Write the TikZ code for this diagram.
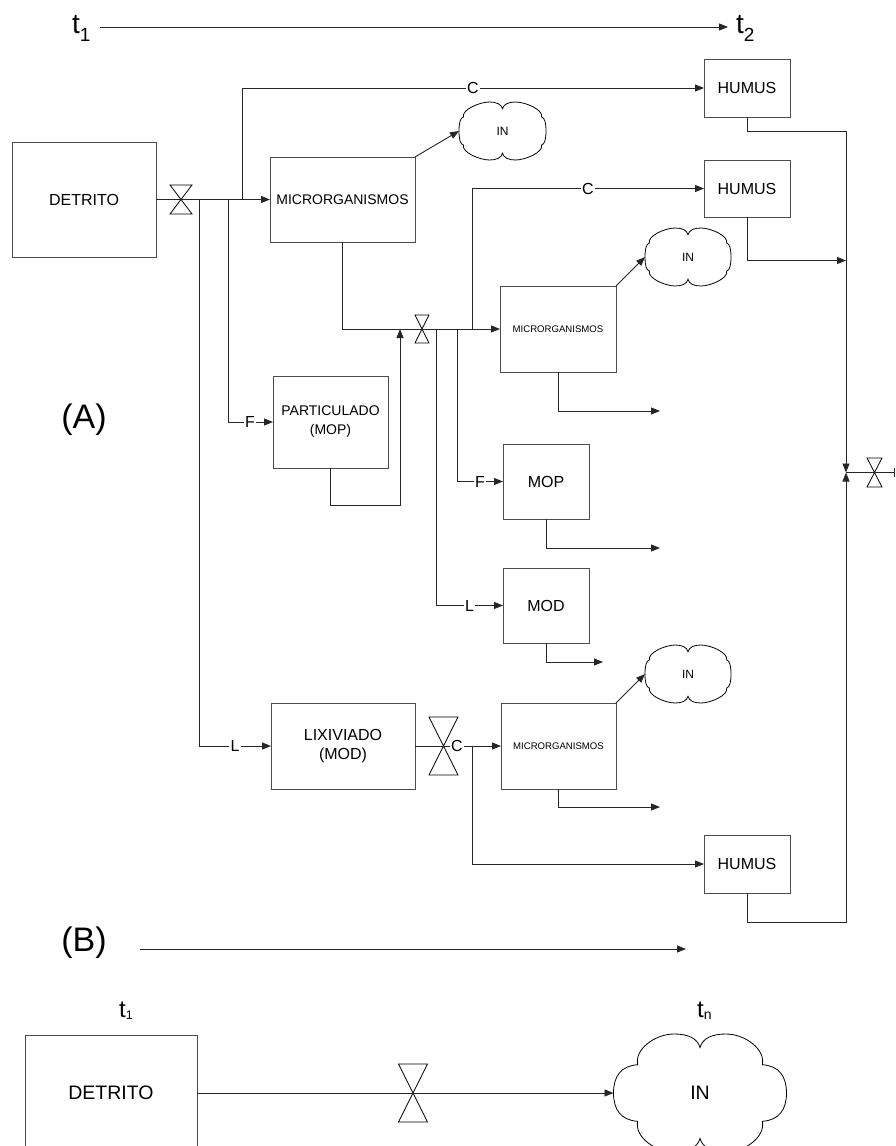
\documentclass[tikz,border=0pt]{standalone}
\usepackage{fontspec}
\setmainfont{Liberation Sans}
\usetikzlibrary{arrows.meta}
\newcommand{\fsz}[2]{\fontsize{#1}{#2}\selectfont}
\newcommand{\drawcloud}[5]{%
  \begin{scope}[shift={(#1,#2)}, xscale=#3, yscale=-#4]
  \draw[cloudline]
    (0,0.77) .. controls (0.03,0.93) and (0.14,1) .. (0.3,1)
    .. controls (0.52,1) and ({#5+0.04},0.74) .. (#5,0.48)
    .. controls ({#5+(1-#5)*0.7},0.46) and (1,0.28) .. (1,0)
    .. controls (1,-0.28) and ({#5+(1-#5)*0.7},-0.46) .. (#5,-0.48)
    .. controls ({#5+0.04},-0.74) and (0.52,-1) .. (0.3,-1)
    .. controls (0.14,-1) and (0.03,-0.93) .. (0,-0.77)
    .. controls (-0.03,-0.93) and (-0.14,-1) .. (-0.3,-1)
    .. controls (-0.52,-1) and ({-#5-0.04},-0.74) .. (-#5,-0.48)
    .. controls ({-#5-(1-#5)*0.7},-0.46) and (-1,-0.28) .. (-1,0)
    .. controls (-1,0.28) and ({-#5-(1-#5)*0.7},0.46) .. (-#5,0.48)
    .. controls ({-#5-0.04},0.74) and (-0.52,1) .. (-0.3,1)
    .. controls (-0.14,1) and (-0.03,0.93) .. (0,0.77) -- cycle;
  \end{scope}}
\newcommand{\drawvalve}[5]{%
  \node[inner sep=0pt, outer sep=0pt, minimum width=#4pt, minimum height=#5pt] (#1) at (#2,#3) {};
  \draw[valveline] (#1.north west) -- (#1.north east) -- (#1.south west) -- (#1.south east) -- cycle;}
\tikzset{
  box/.style={draw=black!70, line width=1pt, inner sep=0pt, outer sep=0pt, align=center},
  ln/.style={draw=black!85, line width=0.9pt},
  arr/.style={ln, -{Triangle[length=9pt,width=7pt]}},
  lab/.style={fill=white, inner sep=1.5pt, font=\fsz{16}{16}},
  cloudline/.style={draw=black, line width=0.8pt},
  valveline/.style={draw=black, line width=0.8pt},
  cloudtext/.style={inner sep=0pt, outer sep=0pt},
}
\begin{document}
\begin{tikzpicture}[x=1pt,y=-1pt]
\useasboundingbox (0,0) rectangle (895,1146);
\clip (0,0) rectangle (895,1146);
\fill[white] (0,0) rectangle (895,1146);

% ---- top timeline
\node[anchor=base west, inner sep=0pt, font=\fsz{28}{28}] (ta) at (72,33) {t\raisebox{-8pt}{\fsz{19}{19}1}};
\node[anchor=base west, inner sep=0pt, font=\fsz{28}{28}] (tb) at (736,33) {t\raisebox{-8pt}{\fsz{19}{19}2}};
\coordinate (tl1) at (100,27);
\coordinate (tl2) at (728,27);
\draw[arr] (tl1) -- (tl2);

\node[font=\fsz{34}{34}] (labA) at (84,420) {(A)};

% ---- boxes
\node[box, minimum width=144pt, minimum height=115pt, font=\fsz{16}{19}] (det1) at (84,199.5) {DETRITO};
\node[box, minimum width=145pt, minimum height=85pt, font=\fsz{14}{19}] (mic1) at (342.5,199.5) {MICRORGANISMOS};
\node[box, minimum width=86pt, minimum height=58pt, font=\fsz{16}{19}] (hum1) at (747,88) {HUMUS};
\node[box, minimum width=86pt, minimum height=57pt, font=\fsz{16}{19}] (hum2) at (747,188.5) {HUMUS};
\node[box, minimum width=116pt, minimum height=86pt, font=\fsz{9.6}{12}] (mic2) at (558,329) {MICRORGANISMOS};
\node[box, minimum width=115pt, minimum height=92pt, font=\fsz{14}{19}] (part) at (330.5,422) {PARTICULADO\\(MOP)};
\node[box, minimum width=86pt, minimum height=75pt, font=\fsz{16}{19}] (mop) at (546,481.5) {MOP};
\node[box, minimum width=86pt, minimum height=75pt, font=\fsz{16}{19}] (mod) at (546,605.5) {MOD};
\node[box, minimum width=144pt, minimum height=86pt, font=\fsz{16}{19}] (lix) at (343,746) {LIXIVIADO\\(MOD)};
\node[box, minimum width=115pt, minimum height=86pt, font=\fsz{9.6}{12}] (mic3) at (558.5,746) {MICRORGANISMOS};
\node[box, minimum width=86pt, minimum height=58pt, font=\fsz{16}{19}] (hum3) at (747,864) {HUMUS};

% ---- clouds
\node[cloudtext, minimum width=87pt, minimum height=58pt, font=\fsz{12}{12}] (c1) at (502.5,131) {IN};
\drawcloud{502.5}{131}{43.5}{29}{0.9}
\node[cloudtext, minimum width=86pt, minimum height=58pt, font=\fsz{12}{12}] (c2) at (688,257) {IN};
\drawcloud{688}{257}{43}{29}{0.9}
\node[cloudtext, minimum width=86pt, minimum height=58pt, font=\fsz{12}{12}] (c3) at (688,674) {IN};
\drawcloud{688}{674}{43}{29}{0.9}

% ---- valves
\drawvalve{v1}{181}{199.5}{22}{29}
\drawvalve{v2}{422}{329}{14}{28}
\drawvalve{v3}{443.5}{746}{29}{58}
\drawvalve{v4}{874.5}{472.5}{15}{29}

% ---- first stage connectors
\draw[ln] (det1.east) -- (v1.center);
\draw[arr] (v1.center) -- (mic1.west);
\coordinate (b1) at (242,199.5);
\coordinate (b2) at (199,199.5);
\coordinate (b3) at (228,199.5);
\draw[arr] (b1) |- node[lab, pos=0.75] {C} (hum1.west);
\draw[arr] (b2) |- node[lab, pos=0.75] {L} (lix.west);
\draw[arr] (b3) |- node[lab, pos=0.745] {F} (part.west);
\draw[arr] (mic1.north east) -- (c1.west);

% ---- second stage
\draw[ln] (mic1.south) |- (v2.center);
\coordinate (j1) at (400,329);
\draw[arr] (part.south) -- ++(0,37) -| (j1);
\draw[arr] (v2.center) -- (mic2.west);
\coordinate (b4) at (472,329);
\coordinate (b5) at (457,329);
\coordinate (b6) at (436,329);
\draw[arr] (b4) |- node[lab, pos=0.75] {C} (hum2.west);
\draw[arr] (b5) |- node[lab, pos=0.75] {F} (mop.west);
\draw[arr] (b6) |- node[lab, pos=0.75] {L} (mod.west);
\draw[arr] (mic2.north east) -- (c2.west);
\coordinate (e1) at (660,411);
\coordinate (e2) at (660,548);
\coordinate (e3) at (603,662);
\draw[arr] (mic2.south) |- (e1);
\draw[arr] (mop.south) |- (e2);
\draw[arr] (mod.south) |- (e3);

% ---- humus collection
\coordinate (jn) at (846,472.5);
\coordinate (r2) at (846,260.5);
\draw[arr] (hum1.south) -- ++(0,14) -| (jn);
\draw[arr] (hum2.south) |- (r2);
\draw[arr] (hum3.south) -- ++(0,29) -| (jn);
\coordinate (xend) at (895,472.5);
\draw[ln] (jn) -- (v4.center) -- (xend);
\coordinate (tk1) at (894.3,468);
\coordinate (tk2) at (894.3,477);
\draw[ln] (tk1) -- (tk2);

% ---- third stage (lixiviado)
\draw[ln] (lix.east) -- (v3.center);
\draw[arr] (v3.center) -- node[lab, pos=0.235, inner sep=0.8pt] {C} (mic3.west);
\coordinate (b7) at (472,746);
\draw[arr] (b7) |- (hum3.west);
\draw[arr] (mic3.north east) -- (c3.west);
\coordinate (e4) at (660,807);
\draw[arr] (mic3.south) |- (e4);

% ---- (B)
\node[font=\fsz{34}{34}] (labB) at (84,943) {(B)};
\coordinate (bt1) at (140,949);
\coordinate (bt2) at (686,949);
\draw[arr] (bt1) -- (bt2);
\node[anchor=base west, inner sep=0pt, font=\fsz{24}{24}] (tc) at (119,1017) {t\raisebox{-2pt}{\fsz{12.5}{12.5}1}};
\node[anchor=base west, inner sep=0pt, font=\fsz{24}{24}] (td) at (697,1017) {t\raisebox{-2pt}{\fsz{14}{14}n}};
\node[box, minimum width=172pt, minimum height=116pt, font=\fsz{19.5}{22}] (det2) at (111,1093) {DETRITO};
\drawvalve{v5}{413}{1093}{29}{58}
\node[cloudtext, minimum width=173pt, minimum height=118pt, font=\fsz{19.5}{20}] (c4) at (700,1093) {IN};
\drawcloud{700}{1093}{86.5}{59}{0.72}
\draw[ln] (det2.east) -- (v5.center);
\draw[arr] (v5.center) -- (c4.west);
\end{tikzpicture}
\end{document}
